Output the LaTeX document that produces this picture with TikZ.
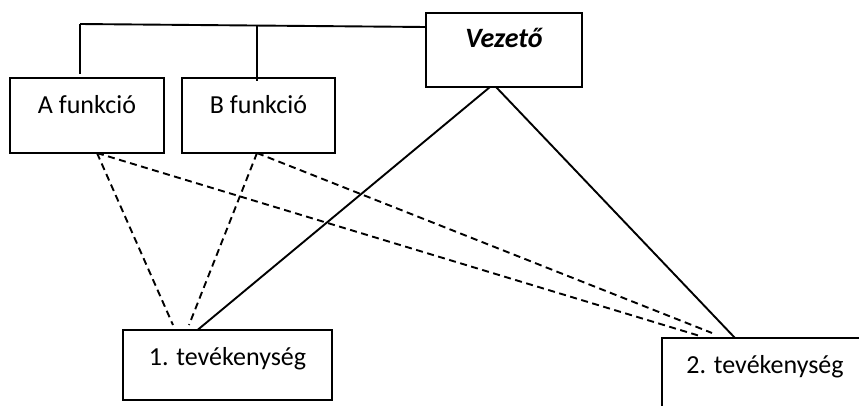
\documentclass[tikz,border=0pt]{standalone}
\usepackage{fontspec}
\setmainfont{Carlito}
\begin{document}
\begin{tikzpicture}[x=1pt,y=-1pt,
  box/.style={draw, line width=2pt, rectangle, inner sep=0pt, outer sep=0pt, anchor=north west, align=center, font=\fontsize{26}{30}\selectfont},
  conn/.style={line width=1.9pt},
  dconn/.style={line width=1.9pt, dash pattern=on 7pt off 4.5pt}]
\useasboundingbox (0,0) rectangle (859,405);
\clip (0,0) rectangle (859,405);
\node[box, minimum width=156pt, text height=34pt, text depth=40pt] (v) at (426,13) {\fontsize{28}{32}\selectfont\bfseries\itshape Vezető};
\node[box, minimum width=154pt, text height=35pt, text depth=40pt] (a) at (10,78) {A funkció};
\node[box, minimum width=153pt, text height=35pt, text depth=40pt] (b) at (182,78) {B funkció};
\node[box, minimum width=209pt, text height=35pt, text depth=35pt] (t1) at (123,330) {1. tevékenység};
\node[box, minimum width=206pt, text height=35pt, text depth=65pt] (t2) at (662,338) {2. tevékenység};
% top connectors
\coordinate (tl) at (80,24);
\coordinate (bt) at (257,25);
\draw[conn] (tl) -- ([yshift=-14pt]v.north west);
\draw[conn] (tl) -- ++(0,50);
\draw[conn] (bt) -- ([yshift=-3pt]bt |- b.north);
% solid lines from Vezető
\draw[conn] ([xshift=-14pt]v.south) -- ([xshift=-30pt]t1.north);
\draw[conn] ([xshift=-8pt]v.south) -- ([xshift=73pt]t2.north west);
% dashed lines
\draw[dconn] ([xshift=10pt]a.south) -- ([xshift=50pt,yshift=5pt]t1.north west);
\draw[dconn] ([xshift=10pt]a.south) -- ([xshift=38pt,yshift=2pt]t2.north west);
\draw[dconn] ([xshift=-1.5pt]b.south) -- ([xshift=66pt,yshift=5pt]t1.north west);
\draw[dconn] ([xshift=-1.5pt]b.south) -- ([xshift=50pt,yshift=5pt]t2.north west);
\end{tikzpicture}
\end{document}
